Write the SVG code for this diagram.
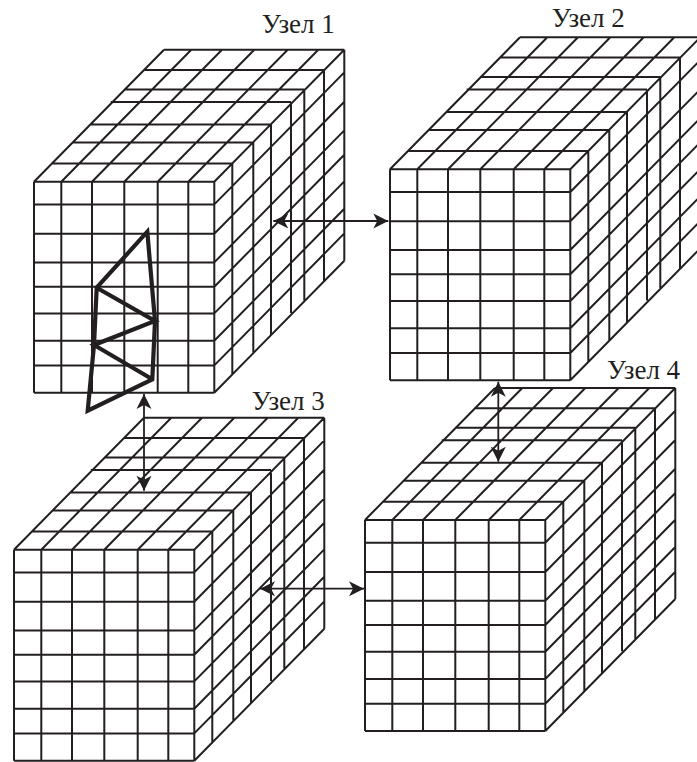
<svg xmlns="http://www.w3.org/2000/svg" xmlns:xlink="http://www.w3.org/1999/xlink" width="697" height="762" viewBox="0 0 697 762">
<style>
.grid{fill:none;stroke:#231f20;stroke-width:2}
.lbl{font-family:"Liberation Serif","Times New Roman",serif;font-size:27px;fill:#231f20}
.arr{fill:none;stroke:#231f20;stroke-width:1.8;marker-start:url(#head);marker-end:url(#head)}
.mesh{fill:none;stroke:#231f20;stroke-width:4.2;stroke-linejoin:miter;stroke-miterlimit:10}
</style>
<defs>
<marker id="head" markerUnits="userSpaceOnUse" markerWidth="18" markerHeight="18" refX="15" refY="9" orient="auto-start-reverse" overflow="visible">
<path d="M0,1.5 L15,9 L0,16.5 L4,9 Z" fill="#231f20"/>
</marker>
<path id="cube" class="grid" d="M0 0V211M27.3 0V211M58 0V211M90.3 0V211M123.7 0V211M154.3 0V211M180.3 0V211
M0 0H180.3M0 22.7H180.3M0 52H180.3M0 80.7H180.3M0 105H180.3M0 131.7H180.3M0 159H180.3M0 183.7H180.3M0 211H180.3
M18 -18.3h180.3M39 -39.3h180.3M56.7 -57.3h180.3M76.7 -79.7h180.3M90 -92.3h180.3M109.7 -111.7h180.3M130 -132h180.3
M198.3 -18.3v211M219.3 -39.3v211M237 -57.3v211M257 -79.7v211M270.3 -92.3v211M290 -111.7v211M310.3 -132v211
M0 0l130 -132M27.3 0l130 -132M58 0l130 -132M90.3 0l130 -132M123.7 0l130 -132M154.3 0l130 -132M180.3 0l130 -132
M180.3 22.7l130 -132M180.3 52l130 -132M180.3 80.7l130 -132M180.3 105l130 -132M180.3 131.7l130 -132M180.3 159l130 -132M180.3 183.7l130 -132M180.3 211l130 -132"/>
</defs>
<g id="node1">
<use href="#cube" x="34" y="181.7"/>
<path class="mesh" d="M147.3 231.7L155 321L152.3 379.3L87.7 410.7L94 345L96.7 287.7ZM96.7 287.7L155 321L94 345L152.3 379.3"/>
<text class="lbl" x="261.7" y="33.3">Узел 1</text>
</g>
<g id="node2">
<use href="#cube" x="390" y="169.3"/>
<text class="lbl" x="551.7" y="27.3">Узел 2</text>
</g>
<g id="node3">
<use href="#cube" x="14" y="549.7"/>
<text class="lbl" x="251.7" y="410">Узел 3</text>
</g>
<g id="node4">
<use href="#cube" x="365" y="520"/>
<text class="lbl" x="607" y="378.5">Узел 4</text>
</g>
<g id="connectors">
<path class="arr" d="M273.3 221H388.3"/>
<path class="arr" d="M144 394V490.7"/>
<path class="arr" d="M260 588.7H364"/>
<path class="arr" d="M498.3 381.7V461.7"/>
</g>
</svg>
